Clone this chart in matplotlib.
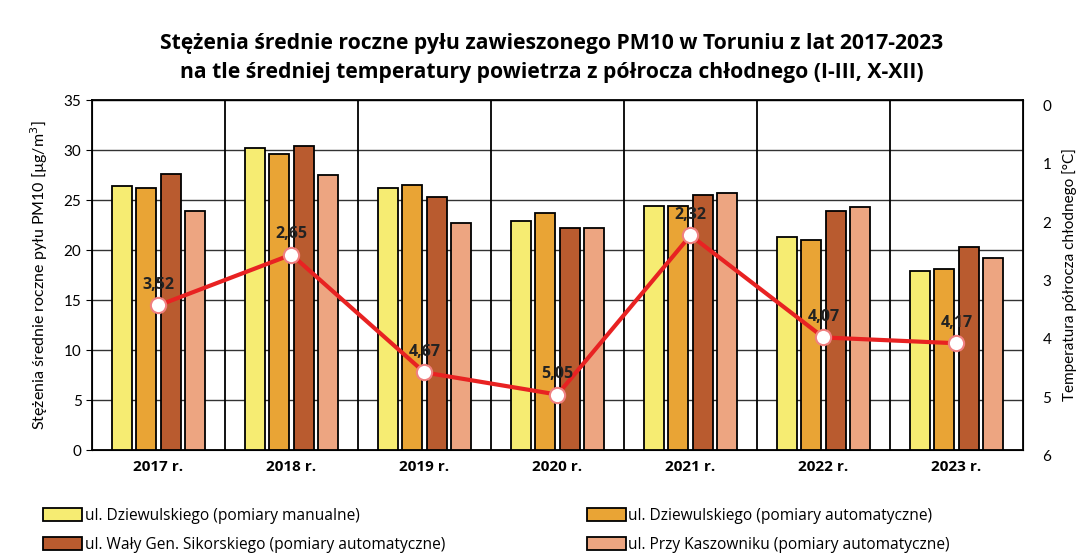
import matplotlib
matplotlib.use("Agg")
import matplotlib.pyplot as plt
import numpy as np

plt.rcParams['font.family'] = ['Lato', 'DejaVu Sans']

years = ["2017 r.", "2018 r.", "2019 r.", "2020 r.", "2021 r.", "2022 r.", "2023 r."]
dziewulskiego_manual = [26.4, 30.2, 26.2, 22.9, 24.4, 21.3, 17.9]
dziewulskiego_auto = [26.2, 29.6, 26.5, 23.7, 24.4, 21.0, 18.1]
waly_sikorskiego = [27.6, 30.4, 25.3, 22.2, 25.5, 23.9, 20.3]
przy_kaszowniku = [23.9, 27.5, 22.7, 22.2, 25.7, 24.3, 19.2]
temperature = [3.52, 2.65, 4.67, 5.05, 2.32, 4.07, 4.17]

series_labels = [
    "ul. Dziewulskiego (pomiary manualne)",
    "ul. Dziewulskiego (pomiary automatyczne)",
    "ul. Wały Gen. Sikorskiego (pomiary automatyczne)",
    "ul. Przy Kaszowniku (pomiary automatyczne)",
]
colors = ["#F6EC72", "#E9A435", "#B95B2F", "#EDA581"]

fig = plt.figure(figsize=(10.92, 5.56), dpi=100)
ax = fig.add_axes([0.0842, 0.1906, 0.8526, 0.6295])

x = np.arange(len(years))
width = 0.15
step = 0.182
series = [dziewulskiego_manual, dziewulskiego_auto, waly_sikorskiego, przy_kaszowniku]
handles = []
for i, (vals, c, lab) in enumerate(zip(series, colors, series_labels)):
    h = ax.bar(x + (i - 1.5) * step, vals, width, color=c, edgecolor="black",
               linewidth=1.3, label=lab, zorder=3)
    handles.append(h)

ax.set_xlim(-0.5, len(years) - 0.5)
ax.set_ylim(0, 35)
ax.set_yticks(np.arange(0, 36, 5))
ax.yaxis.grid(True, color="#333333", linewidth=1.0, zorder=0)
ax.set_axisbelow(True)
for b in np.arange(0.5, len(years) - 0.5, 1):
    ax.axvline(b, color="black", linewidth=1.3, zorder=1)
ax.set_xticks(x)
ax.set_xticklabels(years, fontsize=11, fontweight="bold", family=["Open Sans", "DejaVu Sans"])
ax.tick_params(axis="x", length=0, pad=7)
ax.tick_params(axis="y", labelsize=11, length=4, colors="black")
for s in ax.spines.values():
    s.set_linewidth(1.3)
    s.set_color("black")
ax.set_ylabel("Stężenia średnie roczne pyłu PM10 [µg/m$^3$]", fontsize=11.5, labelpad=10)

ax2 = ax.twinx()
ax2.set_ylim(6, 0)
ax2.set_yticks(np.arange(0, 7, 1))
ax2.tick_params(axis="y", labelsize=11, length=0, pad=14)
for lbl in ax2.get_yticklabels():
    lbl.set_va("top")
ax2.set_ylabel("Temperatura półrocza chłodnego [°C]", fontsize=11, labelpad=8)
ax2.plot(x, temperature, color="#E82222", linewidth=3, marker="o", markersize=11,
         markerfacecolor="white", markeredgecolor="#F08080", markeredgewidth=1.5, zorder=5)
for xi, t in zip(x, temperature):
    ax2.annotate(f"{t:.2f}".replace(".", ","), (xi, t), xytext=(0, 9),
                 textcoords="offset points", ha="center", va="bottom",
                 fontsize=11.5, fontweight="bold", color="#222222", zorder=6,
                 family=["Open Sans", "DejaVu Sans"])

title_font = ["Open Sans", "DejaVu Sans"]
fig.text(0.505, 0.922, "Stężenia średnie roczne pyłu zawieszonego PM10 w Toruniu z lat 2017-2023",
         ha="center", va="center", fontsize=15.2, fontweight="bold", family=title_font)
fig.text(0.505, 0.869, "na tle średniej temperatury powietrza z półrocza chłodnego (I-III, X-XII)",
         ha="center", va="center", fontsize=15.2, fontweight="bold", family=title_font)

leg_kw = dict(frameon=False, handlelength=2.5, handleheight=0.9,
              handletextpad=0.15, labelspacing=0.85, borderaxespad=0,
              prop={"family": ["Open Sans", "DejaVu Sans"], "size": 11.2})
fig.legend([handles[0], handles[2]], [series_labels[0], series_labels[2]],
           loc="upper left", bbox_to_anchor=(0.034, 0.098), **leg_kw)
fig.legend([handles[1], handles[3]], [series_labels[1], series_labels[3]],
           loc="upper left", bbox_to_anchor=(0.532, 0.098), **leg_kw)

fig.savefig("out.png", dpi=100)
